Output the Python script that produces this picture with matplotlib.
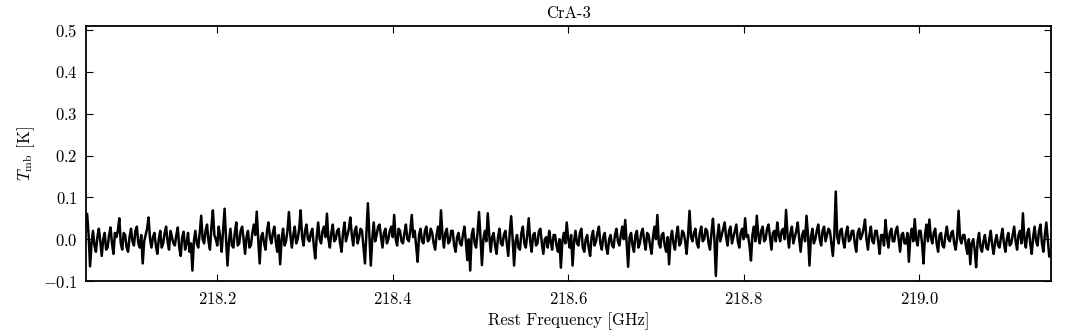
import numpy as np
import matplotlib
matplotlib.use("Agg")
import matplotlib.pyplot as plt

# Spectrum (values in mK, read from the picture channel by channel, approximately)
freq_start = 218.052
freq_stop = 219.148
tmb_mK = [
    60, 10, -65, -10, 20, -15, -30, 5, 25, -5, -40, 0, 15, -25, -20, 10, 28, -10, -35, 15,
    5, 20, 50, -10, -25, 15, 10, -20, -30, 5, 25, -5, -15, 20, 30, -10, -20, 10, -58, -5,
    10, 25, 52, 0, -20, 5, 15, -15, -35, 0, 20, -20, -10, 15, 30, -5, -25, 20, 5, -10,
    -15, 10, 28, -20, -40, 5, 18, -25, -10, 15, -30, -10, -75, -5, 20, -10, -20, 15, 56, 0,
    -10, 20, 35, -5, -25, 30, 69, 10, 0, -15, 30, 5, -30, 20, 73, 0, -63, -5, 25, -15,
    -20, 15, 40, -15, -10, 20, 30, 0, -35, 5, 20, -20, -15, 15, 35, 10, 66, 0, -58, 5,
    15, -10, -25, 20, 40, 5, -10, 15, 30, -5, -30, 10, -60, 0, 25, -15, -5, 20, 65, 10,
    -20, 10, 30, -10, 0, 25, 69, 5, -15, 20, 35, 0, -5, 15, 25, -15, -46, 5, 40, 0,
    -10, 20, 30, 5, 61, 0, -20, 15, 35, -5, 0, 20, 25, -10, -30, 15, 40, -5, 10, 25,
    52, 10, -15, 20, 30, -10, 5, 25, 20, -20, -58, 15, 86, 10, -63, 0, 40, -5, 10, 30,
    35, 5, -20, 15, 25, -10, 0, 20, 30, 5, 58, 0, -15, 25, 20, -5, -10, 15, 35, 0,
    -5, 20, 58, 5, 20, -15, -54, 10, 25, -5, -10, 20, 30, -5, 0, 25, 15, -10, -25, 10,
    30, 0, 69, 10, -20, 15, 25, -10, -5, 20, 20, -15, -30, 5, 15, -10, -15, 10, 30, -5,
    -50, 0, -75, 10, 25, -10, -20, 15, 65, 5, -62, 0, 20, -5, 62, 10, -30, 5, 15, -15,
    -35, 5, 25, -10, -15, 10, 20, -10, -40, 15, 55, 0, -63, -5, 10, -20, -25, 15, 30, -10,
    -20, 10, 50, -5, -30, 10, 15, -15, -10, 20, 25, -10, -35, 0, 5, -20, 20, -5, -25, 10,
    10, -15, -30, 0, -68, -5, 15, -10, 40, 0, -20, 10, -63, -5, 20, -10, -15, 15, 25, -20,
    -30, 0, 10, -20, -40, 5, 20, -15, -5, 15, 30, -10, -25, 5, 15, -20, -35, 0, 10, -15,
    -20, 10, 25, -5, -15, 10, 30, 0, 46, -10, -66, 5, 15, -15, -30, 10, 20, -20, -10, 15,
    25, -5, -25, 15, 10, -15, -35, 5, 30, 0, 58, -10, -20, 10, 15, -15, -30, 5, -60, 0,
    20, -10, -25, 10, 30, -15, -10, 20, 15, -5, -35, 10, 68, 5, -5, 15, 25, -10, -20, 15,
    30, -5, 0, 25, 20, -10, -25, 15, 49, 0, -88, 5, 35, -5, 10, 25, 40, 5, -15, 20,
    30, -10, 5, 20, 35, -5, -20, 15, 25, 0, 50, 5, 10, -15, -51, 10, 30, -5, 56, 10,
    -10, 20, 30, -5, 0, 25, 35, 5, -25, 15, 20, -5, 40, 10, -5, 20, 25, 0, 70, 10,
    -20, 15, 30, -10, 5, 20, 40, 0, -30, 10, 20, -5, 56, 10, -63, 5, 25, -10, 0, 20,
    35, 0, -15, 20, 30, -5, 10, 25, 20, -10, -40, 10, 114, 5, -10, 20, 25, -5, -20, 15,
    30, -5, 0, 20, 20, -10, -30, 15, 25, 0, 10, 25, 47, 0, -25, 10, 30, -5, -10, 20,
    20, -5, -35, 10, 10, -15, 46, 5, -20, 15, 25, -5, -5, 20, 30, 0, -30, 10, 15, -10,
    -10, 15, -54, 5, 25, -5, 48, 0, -15, 20, 20, -10, -58, 10, 35, -5, 47, 5, -10, 15,
    25, -10, -30, 10, 15, -15, -20, 10, 30, 0, -5, 15, 20, -10, -25, 5, 68, 0, -10, 10,
    10, -15, -35, 0, -60, -10, 0, -25, -67, -5, 15, -20, -30, -5, 10, -20, -25, 0, 20, -15,
    -35, -5, 10, -15, -20, 5, 25, -10, -30, 0, 15, -15, -10, 10, 30, -5, -25, 10, 20, -10,
    62, 0, -20, 15, 25, -10, -35, 5, 30, -5, -15, 20, 35, -10, -30, 10, 40, 0, -41,
]
x_ticks = [218.2, 218.4, 218.6, 218.8, 219.0]
y_ticks = [-0.1, 0.0, 0.1, 0.2, 0.3, 0.4, 0.5]
title = "CrA-3"

plt.rcParams.update({
    "font.family": "serif",
    "font.serif": ["cmr10", "DejaVu Serif"],
    "mathtext.fontset": "cm",
    "axes.formatter.use_mathtext": True,
    "font.size": 12,
    "xtick.direction": "in",
    "ytick.direction": "in",
    "xtick.top": True,
    "ytick.right": True,
    "xtick.major.size": 5,
    "ytick.major.size": 5,
    "xtick.major.pad": 7,
    "ytick.major.pad": 6,
    "axes.linewidth": 1.3,
})

tmb = np.array(tmb_mK) / 1000.0
freq = np.linspace(freq_start, freq_stop, len(tmb))

fig = plt.figure(figsize=(10.72, 3.31), dpi=100)
ax = fig.add_axes([86 / 1072, 1 - 281 / 331, (1051 - 86) / 1072, (281 - 26) / 331])
ax.plot(freq, tmb, color="black", lw=1.8)
ax.set_xlim(218.0507, 219.150)
ax.set_ylim(-0.1, 0.51)
ax.set_xticks(x_ticks)
ax.set_yticks(y_ticks)
ax.set_xlabel("Rest Frequency [GHz]")
ax.set_ylabel(r"$T_{\rm mb}$ [K]")
ax.set_title(title, fontsize=12)
fig.savefig("out.png", dpi=100)
